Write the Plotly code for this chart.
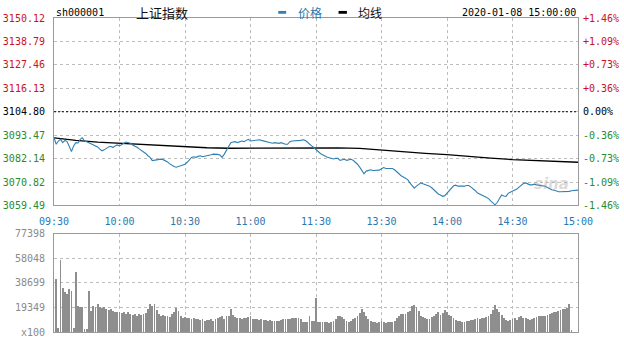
import plotly.graph_objects as go

# ---------------- data ----------------
time_labels = ['09:30', '10:00', '10:30', '11:00', '11:30', '13:30', '14:00', '14:30', '15:00']
time_ticks = [0, 30, 60, 90, 120, 150, 180, 210, 240]

prev_close = 3104.80

price = [
    3092.23, 3089.07, 3090.65, 3091.44, 3089.86, 3090.97, 3090.34, 3087.49, 3085.59, 3088.28,
    3089.86, 3089.70, 3091.44, 3092.23, 3090.65, 3090.34, 3089.86, 3089.39, 3089.07, 3088.60,
    3087.80, 3086.70, 3085.91, 3086.38, 3087.17, 3087.80, 3088.12, 3087.49, 3088.28, 3088.75,
    3088.28, 3089.07, 3089.55, 3090.18, 3090.02, 3089.55, 3088.75, 3088.28, 3087.65, 3086.86,
    3086.22, 3085.43, 3084.64, 3083.53, 3082.74, 3081.16, 3081.32, 3081.64, 3081.95, 3081.90,
    3081.64, 3081.16, 3080.53, 3079.58, 3078.79, 3078.31, 3078.00, 3078.31, 3078.95, 3079.26,
    3079.42, 3080.37, 3081.79, 3082.74, 3083.06, 3082.74, 3083.22, 3083.53, 3083.06, 3083.22,
    3083.69, 3083.85, 3084.01, 3084.32, 3084.30, 3084.17, 3083.85, 3082.74, 3084.32, 3086.22,
    3088.28, 3089.86, 3090.18, 3090.34, 3089.86, 3090.34, 3090.65, 3090.34, 3090.97, 3091.44,
    3090.65, 3090.81, 3091.13, 3091.44, 3091.28, 3090.97, 3090.65, 3090.18, 3089.86, 3089.55,
    3089.55, 3089.86, 3089.55, 3089.50, 3089.86, 3089.39, 3089.07, 3089.07, 3090.34, 3090.65,
    3090.65, 3090.81, 3090.97, 3090.97, 3091.28, 3090.97, 3090.18, 3089.07, 3088.28, 3087.49,
    3086.38, 3085.59, 3084.64, 3084.01, 3083.38, 3082.90, 3082.58, 3082.27, 3081.95, 3082.27,
    3082.27, 3081.32, 3081.64, 3081.79, 3081.32, 3081.48, 3081.79, 3081.32, 3080.53, 3079.42,
    3078.00, 3076.10, 3074.83, 3076.10, 3076.57, 3076.73, 3076.42, 3076.42, 3076.40, 3076.57,
    3077.21, 3077.84, 3077.36, 3077.36, 3077.68, 3077.36, 3076.73, 3075.62, 3074.67, 3073.88,
    3073.25, 3072.77, 3071.98, 3070.40, 3068.82, 3067.87, 3068.82, 3069.77, 3070.40, 3069.93,
    3069.61, 3069.14, 3068.82, 3068.03, 3066.92, 3065.66, 3065.02, 3064.55, 3063.92, 3064.23,
    3065.34, 3066.61, 3068.03, 3068.98, 3069.30, 3068.82, 3068.82, 3068.80, 3068.82, 3069.14,
    3069.14, 3068.35, 3067.56, 3066.61, 3065.50, 3064.87, 3064.39, 3063.92, 3063.44, 3062.81,
    3061.70, 3060.59, 3059.80, 3060.91, 3062.49, 3064.55, 3064.07, 3063.92, 3065.34, 3065.82,
    3066.29, 3066.92, 3067.40, 3068.35, 3069.30, 3070.09, 3070.40, 3069.77, 3069.45, 3069.45,
    3069.77, 3069.45, 3069.30, 3069.30, 3069.14, 3068.82, 3068.19, 3067.56, 3067.08, 3066.92,
    3066.45, 3066.13, 3066.13, 3066.13, 3066.13, 3066.13, 3066.29, 3066.61, 3066.61, 3066.77,
    3066.92,
]

avg_minutes = [0, 10, 20, 30, 40, 50, 60, 70, 80, 90, 100, 110, 120,
               130, 140, 150, 160, 170, 180, 190, 200, 210, 220, 230, 240]
avg_price = [3092.20, 3090.95, 3090.10, 3089.53, 3088.77, 3088.20, 3087.82, 3087.39, 3087.15,
             3087.25, 3087.39, 3087.49, 3087.49, 3087.34, 3087.06, 3086.20, 3085.45, 3084.64,
             3084.02, 3083.07, 3082.36, 3081.65, 3081.32, 3080.84, 3080.37]

volume = [
    0, 42300, 3600, 56500, 34600, 32000, 30200, 34000, 32800, 3600,
    47500, 20400, 19500, 19500, 2300, 2300, 32800, 16500, 21000, 19500,
    22000, 20000, 19000, 19500, 18500, 17500, 18000, 16500, 15500, 16000,
    15500, 15000, 16000, 14500, 15500, 14000, 13500, 14500, 13000, 14000,
    13500, 14500, 15000, 18000, 22500, 20500, 22000, 17500, 14000, 13000,
    13500, 12500, 13000, 12000, 14500, 16000, 19000, 17000, 12500, 11500,
    12000, 11000, 11500, 10500, 11000, 10500, 10000, 9500, 10000, 9000,
    9500, 9500, 10000, 9000, 10500, 11000, 12000, 13000, 10500, 12500,
    13000, 18000, 13500, 12000, 11500, 11000, 10000, 11500, 11000, 12000,
    12500, 10500, 10000, 10000, 9500, 10000, 9500, 9500, 9000, 9500,
    9000, 9000, 8500, 9000, 9500, 10000, 10500, 10000, 10000, 11000,
    11500, 11000, 11500, 10500, 8000, 8000, 7800, 12500, 9000, 8500,
    27000, 8300, 7700, 7700, 8300, 7700, 7200, 7700, 9000, 10300,
    12400, 12900, 11600, 10300, 9000, 7700, 9000, 10300, 10800, 12900,
    15000, 18600, 16000, 12400, 10300, 9000, 7700, 7700, 7500, 7700,
    9000, 8300, 7500, 7700, 8300, 7700, 9000, 10800, 12900, 14200,
    14200, 14200, 15500, 16800, 20600, 21200, 20100, 16800, 12900, 11600,
    11100, 10300, 10300, 11600, 12900, 14200, 15500, 13400, 15000, 17500,
    15500, 13400, 12400, 10800, 9800, 9000, 8800, 7700, 8300, 8800,
    9000, 9300, 9800, 10300, 10800, 10300, 11100, 11400, 11600, 12900,
    14200, 17500, 21200, 18600, 16000, 13400, 10800, 9800, 9000, 9500,
    10300, 10800, 9800, 11600, 12900, 11400, 10800, 10300, 9800, 10300,
    10800, 11600, 12400, 12400, 12900, 12900, 13400, 14200, 14700, 15500,
    16000, 16800, 17500, 18100, 18600, 19300, 21900, 1300, 0, 0,
    0,
]

price_ticks = [3150.12, 3138.79, 3127.46, 3116.13, 3104.80, 3093.47, 3082.14, 3070.82, 3059.49]
pct_labels = ['+1.46%', '+1.09%', '+0.73%', '+0.36%', '0.00%', '-0.36%', '-0.73%', '-1.09%', '-1.46%']
vol_ticks = [0, 19349, 38699, 58048, 77398]
vol_labels = ['x100', '19349', '38699', '58048', '77398']

title_code = 'sh000001'
title_name = '上证指数'
legend_price = '价格'
legend_avg = '均线'
stamp = '2020-01-08 15:00:00'

# ---------------- styling ----------------
RED = '#cc1122'
GREEN = '#2b8a2b'
BLUE = '#2a78b0'
LINE_BLUE = '#2f80b4'
MONO = 'DejaVu Sans Mono'
GRID = '#bdbdbd'
BORDER = '#9a9a9a'


def colored(val, text):
    if abs(val - prev_close) < 1e-6:
        c = '#000000'
    elif val > prev_close:
        c = RED
    else:
        c = GREEN
    return '<span style="color:%s">%s</span>' % (c, text)


left_text = [colored(v, '%.2f' % v) for v in price_ticks]
right_text = [colored(v, t) for v, t in zip(price_ticks, pct_labels)]

minutes = list(range(len(price)))

fig = go.Figure()

fig.add_trace(go.Bar(x=minutes, y=volume, xaxis='x2', yaxis='y3', width=0.4,
                     marker=dict(color='#8e8e8e', line=dict(width=0)), showlegend=False))

fig.add_trace(go.Scatter(x=[time_ticks[0], time_ticks[-1]], y=[prev_close, prev_close],
                         xaxis='x', yaxis='y2', mode='lines',
                         line=dict(color='#000000', width=1, dash='2px,2px'), showlegend=False))

fig.add_trace(go.Scatter(x=avg_minutes, y=avg_price, xaxis='x', yaxis='y', mode='lines',
                         line=dict(color='#000000', width=1.3), showlegend=False))

fig.add_trace(go.Scatter(x=minutes, y=price, xaxis='x', yaxis='y', mode='lines',
                         line=dict(color=LINE_BLUE, width=1.1), showlegend=False))

xrange = [time_ticks[0], time_ticks[-1]]
yrange = [price_ticks[-1], price_ticks[0]]

fig.update_layout(
    width=624, height=341,
    margin=dict(l=50, r=46, t=18, b=3),
    paper_bgcolor='white', plot_bgcolor='white',
    showlegend=False,
    bargap=0,
    font=dict(family=MONO, size=10, color='#000'),
    xaxis=dict(domain=[0, 1], anchor='y', range=xrange, tickvals=time_ticks, ticktext=time_labels,
               showgrid=True, gridcolor=GRID, griddash='dot', gridwidth=1,
               showline=True, mirror=True, linecolor=BORDER, linewidth=1,
               ticks='', ticklabelstandoff=7, zeroline=False,
               tickfont=dict(family=MONO, size=10, color=BLUE)),
    yaxis=dict(domain=[0.403, 1], anchor='x', range=yrange, tickvals=price_ticks, ticktext=left_text,
               showgrid=True, gridcolor=GRID, griddash='dot', gridwidth=1,
               showline=True, mirror=True, linecolor=BORDER, linewidth=1,
               ticks='', ticklabelstandoff=6, zeroline=False,
               tickfont=dict(family=MONO, size=10)),
    yaxis2=dict(overlaying='y', anchor='x', side='right', range=yrange, tickvals=price_ticks,
                ticktext=right_text, showgrid=False, zeroline=False, showline=False,
                ticks='', ticklabelstandoff=4, tickfont=dict(family=MONO, size=10)),
    xaxis2=dict(domain=[0, 1], anchor='y3', range=xrange, tickvals=time_ticks, showticklabels=False,
                showgrid=True, gridcolor=GRID, griddash='dot', gridwidth=1,
                showline=True, mirror=True, linecolor=BORDER, linewidth=1, ticks='', zeroline=False),
    yaxis3=dict(domain=[0, 0.3125], anchor='x2', range=[vol_ticks[0], vol_ticks[-1]],
                tickvals=vol_ticks, ticktext=vol_labels,
                showgrid=True, gridcolor=GRID, griddash='dot', gridwidth=1,
                showline=True, mirror=True, linecolor=BORDER, linewidth=1,
                ticks='', ticklabelstandoff=6, zeroline=False,
                tickfont=dict(family=MONO, size=10, color='#8a8a8a')),
)

ty = 1.019
fig.add_annotation(text=title_code, xref='paper', yref='paper', x=0, y=ty, xanchor='left',
                   yanchor='middle', showarrow=False, font=dict(family=MONO, size=10, color='#000'))
fig.add_annotation(text=title_name, xref='paper', yref='paper', x=0.153, y=ty, xanchor='left',
                   yanchor='middle', showarrow=False,
                   font=dict(family='Noto Sans CJK SC', size=13, color='#111'))
fig.add_annotation(text=legend_price, xref='paper', yref='paper', x=0.462, y=ty, xanchor='left',
                   yanchor='middle', showarrow=False,
                   font=dict(family='Noto Sans CJK SC', size=12, color=BLUE))
fig.add_annotation(text=legend_avg, xref='paper', yref='paper', x=0.576, y=ty, xanchor='left',
                   yanchor='middle', showarrow=False,
                   font=dict(family='Noto Sans CJK SC', size=12, color='#111'))
fig.add_annotation(text=stamp, xref='paper', yref='paper', x=1.0, y=ty, xanchor='right',
                   yanchor='middle', showarrow=False, font=dict(family=MONO, size=10, color='#000'))
fig.add_annotation(text='<b><i>sina</i></b>', xref='paper', yref='paper', x=0.95, y=0.47,
                   xanchor='center', yanchor='middle', showarrow=False,
                   font=dict(family='DejaVu Sans', size=15, color='rgba(150,150,150,0.35)'))

# legend swatches
fig.add_shape(type='rect', xref='paper', yref='paper', x0=0.428, x1=0.443, y0=1.0135, y1=1.0225,
              fillcolor=LINE_BLUE, line=dict(width=0))
fig.add_shape(type='rect', xref='paper', yref='paper', x0=0.543, x1=0.559, y0=1.0135, y1=1.0225,
              fillcolor='#000', line=dict(width=0))

fig.write_html('out.html')
